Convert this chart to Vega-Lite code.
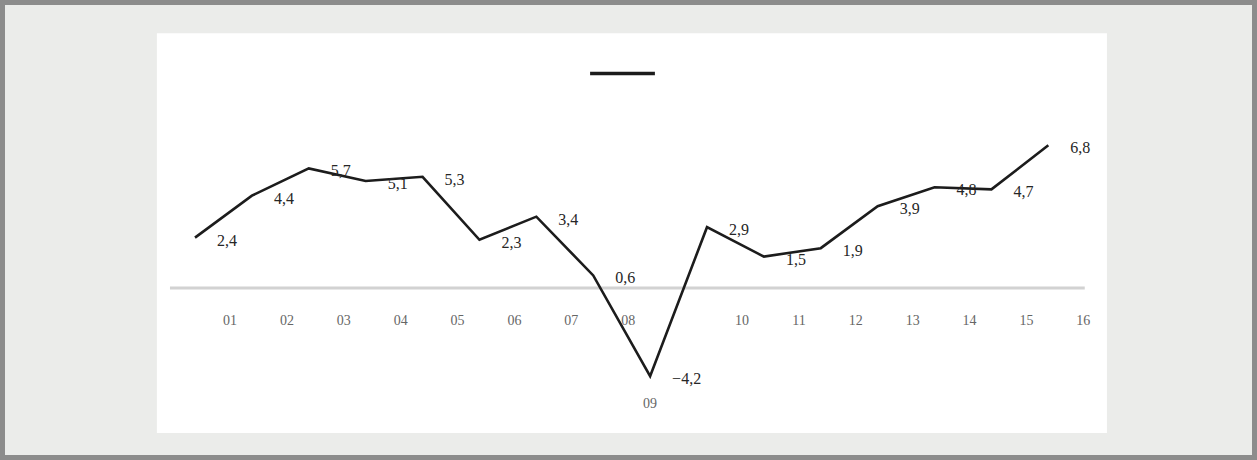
{
  "$schema": "https://vega.github.io/schema/vega-lite/v6.json",
  "width": 1257,
  "height": 460,
  "autosize": {"type": "fit", "contains": "padding"},
  "padding": 5,
  "background": "#8c8c8c",
  "config": {
    "view": {"fill": "#ebecea", "stroke": null},
    "font": "Liberation Serif",
    "locale": {"number": {"decimal": ",", "thousands": " ", "grouping": [3], "currency": ["", ""]}}
  },
  "data": {
    "values": [
      {"year": 2001, "yr": "01", "value": 2.4},
      {"year": 2002, "yr": "02", "value": 4.4},
      {"year": 2003, "yr": "03", "value": 5.7},
      {"year": 2004, "yr": "04", "value": 5.1},
      {"year": 2005, "yr": "05", "value": 5.3},
      {"year": 2006, "yr": "06", "value": 2.3},
      {"year": 2007, "yr": "07", "value": 3.4},
      {"year": 2008, "yr": "08", "value": 0.6},
      {"year": 2009, "yr": "09", "value": -4.2},
      {"year": 2010, "yr": "10", "value": 2.9},
      {"year": 2011, "yr": "11", "value": 1.5},
      {"year": 2012, "yr": "12", "value": 1.9},
      {"year": 2013, "yr": "13", "value": 3.9},
      {"year": 2014, "yr": "14", "value": 4.8},
      {"year": 2015, "yr": "15", "value": 4.7},
      {"year": 2016, "yr": "16", "value": 6.8}
    ]
  },
  "layer": [
    {
      "data": {"values": [{}]},
      "mark": {"type": "rect", "fill": "#ffffff"},
      "encoding": {
        "x": {"datum": 2000.33, "type": "quantitative", "scale": {"domain": [1997.66, 2019.58], "nice": false, "zero": false}, "axis": null},
        "x2": {"datum": 2017.03},
        "y": {"datum": 12.14, "type": "quantitative", "scale": {"domain": [-7.95, 13.48], "nice": false, "zero": false}, "axis": null},
        "y2": {"datum": -6.9}
      }
    },
    {
      "data": {"values": [{}]},
      "mark": {"type": "rule", "color": "#d2d2d2", "strokeWidth": 3},
      "encoding": {
        "x": {"datum": 2000.56, "type": "quantitative"},
        "x2": {"datum": 2016.64},
        "y": {"datum": 0, "type": "quantitative"}
      }
    },
    {
      "mark": {"type": "line", "strokeWidth": 2.6, "strokeJoin": "miter"},
      "encoding": {
        "x": {"field": "year", "type": "quantitative"},
        "y": {"field": "value", "type": "quantitative"},
        "color": {
          "datum": "growth",
          "scale": {"range": ["#1c1c1c"]},
          "legend": {
            "orient": "none",
            "legendX": 583,
            "legendY": 34,
            "title": null,
            "padding": 0,
            "symbolType": "stroke",
            "symbolSize": 4200,
            "symbolStrokeWidth": 3.5,
            "labelExpr": "''",
            "labelFontSize": 1
          }
        }
      }
    },
    {
      "mark": {"type": "text", "align": "left", "baseline": "middle", "dx": 22, "dy": 3, "fontSize": 16, "color": "#262626"},
      "encoding": {
        "x": {"field": "year", "type": "quantitative"},
        "y": {"field": "value", "type": "quantitative"},
        "text": {"field": "value", "type": "quantitative", "format": ".1f"}
      }
    },
    {
      "transform": [{"filter": "datum.value >= 0"}],
      "mark": {"type": "text", "align": "center", "baseline": "middle", "dx": 35, "fontSize": 14, "color": "#666666"},
      "encoding": {
        "x": {"field": "year", "type": "quantitative"},
        "y": {"datum": -1.57, "type": "quantitative"},
        "text": {"field": "yr"}
      }
    },
    {
      "transform": [{"filter": "datum.value < 0"}],
      "mark": {"type": "text", "align": "center", "baseline": "middle", "dy": 28, "fontSize": 14, "color": "#666666"},
      "encoding": {
        "x": {"field": "year", "type": "quantitative"},
        "y": {"field": "value", "type": "quantitative"},
        "text": {"field": "yr"}
      }
    }
  ]
}
